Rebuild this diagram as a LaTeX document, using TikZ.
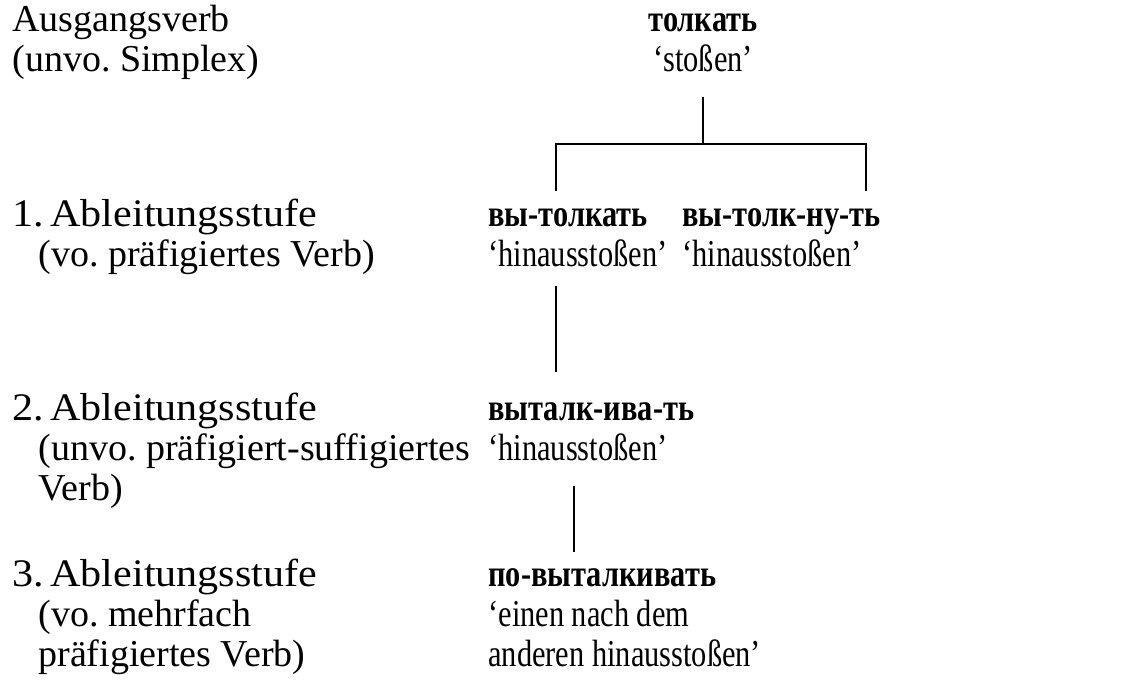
\documentclass[tikz,border=0pt]{standalone}
\usepackage{fontspec}
\setmainfont{Liberation Serif}
\newfontfamily\rufont[FakeStretch=0.8]{Liberation Serif}
\newfontfamily\glfont[FakeStretch=0.8]{Liberation Serif}
\newfontfamily\abfont[FakeStretch=1.08]{Liberation Serif}
\begin{document}
\frenchspacing
\begin{tikzpicture}[x=0.5bp,y=-0.5bp,
  txt/.style={anchor=base west, inner sep=0pt, font=\fontsize{19bp}{21bp}\selectfont},
  ctr/.style={anchor=base, inner sep=0pt, font=\fontsize{19bp}{21bp}\selectfont},
  ab/.style={font=\fontsize{19.5bp}{21bp}\abfont},
  ru/.style={font=\fontsize{19bp}{21bp}\rufont\bfseries},
  gl/.style={font=\fontsize{19bp}{21bp}\glfont},
  link/.style={line width=1.1bp}]
\useasboundingbox (0,0) rectangle (1140,684);
% left column
\node[txt] (a1) at (12,32) {Ausgangsverb};
\node[txt] (a2) at (12,72) {(unvo. Simplex)};
\node[txt,ab] (b1) at (12,226) {1.\,Ableitungsstufe};
\node[txt] (b2) at (38,266) {(vo. präfigiertes Verb)};
\node[txt,ab] (c1) at (12,420) {2.\,Ableitungsstufe};
\node[txt] (c2) at (38,460) {(unvo. präfigiert-suffigiertes};
\node[txt] (c3) at (38,500) {Verb)};
\node[txt,ab] (d1) at (12,586) {3.\,Ableitungsstufe};
\node[txt] (d2) at (38,626) {(vo. mehrfach};
\node[txt] (d3) at (38,666) {präfigiertes Verb)};
% right column
\node[ctr,ru] (r0a) at (703,32) {толкать};
\node[ctr,gl] (r0b) at (703,72) {‘stoßen’};
\node[txt,ru] (r1a) at (488,226) {вы-толкать};
\node[txt,gl] (r1b) at (488,266) {‘hinausstoßen’};
\node[txt,ru] (r1c) at (682,226) {вы-толк-ну-ть};
\node[txt,gl] (r1d) at (682,266) {‘hinausstoßen’};
\node[txt,ru] (r2a) at (488,420) {выталк-ива-ть};
\node[txt,gl] (r2b) at (488,460) {‘hinausstoßen’};
\node[txt,ru] (r3a) at (488,586) {по-выталкивать};
\node[txt,gl] (r3b) at (488,626) {‘einen nach dem};
\node[txt,gl] (r3c) at (488,666) {anderen hinausstoßen’};
% connectors
\coordinate (t0) at (703,97);
\coordinate (bar) at (703,144);
\coordinate (bl) at (556,144);
\coordinate (br) at (866,144);
\coordinate (e1) at (556,191);
\coordinate (e2) at (866,191);
\coordinate (s1) at (556,286);
\coordinate (s2) at (556,372);
\coordinate (u1) at (574,486);
\coordinate (u2) at (574,552);
\draw[link] (t0) -- (bar);
\draw[link] (e1) -- (bl) -- (br) -- (e2);
\draw[link] (s1) -- (s2);
\draw[link] (u1) -- (u2);
\end{tikzpicture}
\end{document}
